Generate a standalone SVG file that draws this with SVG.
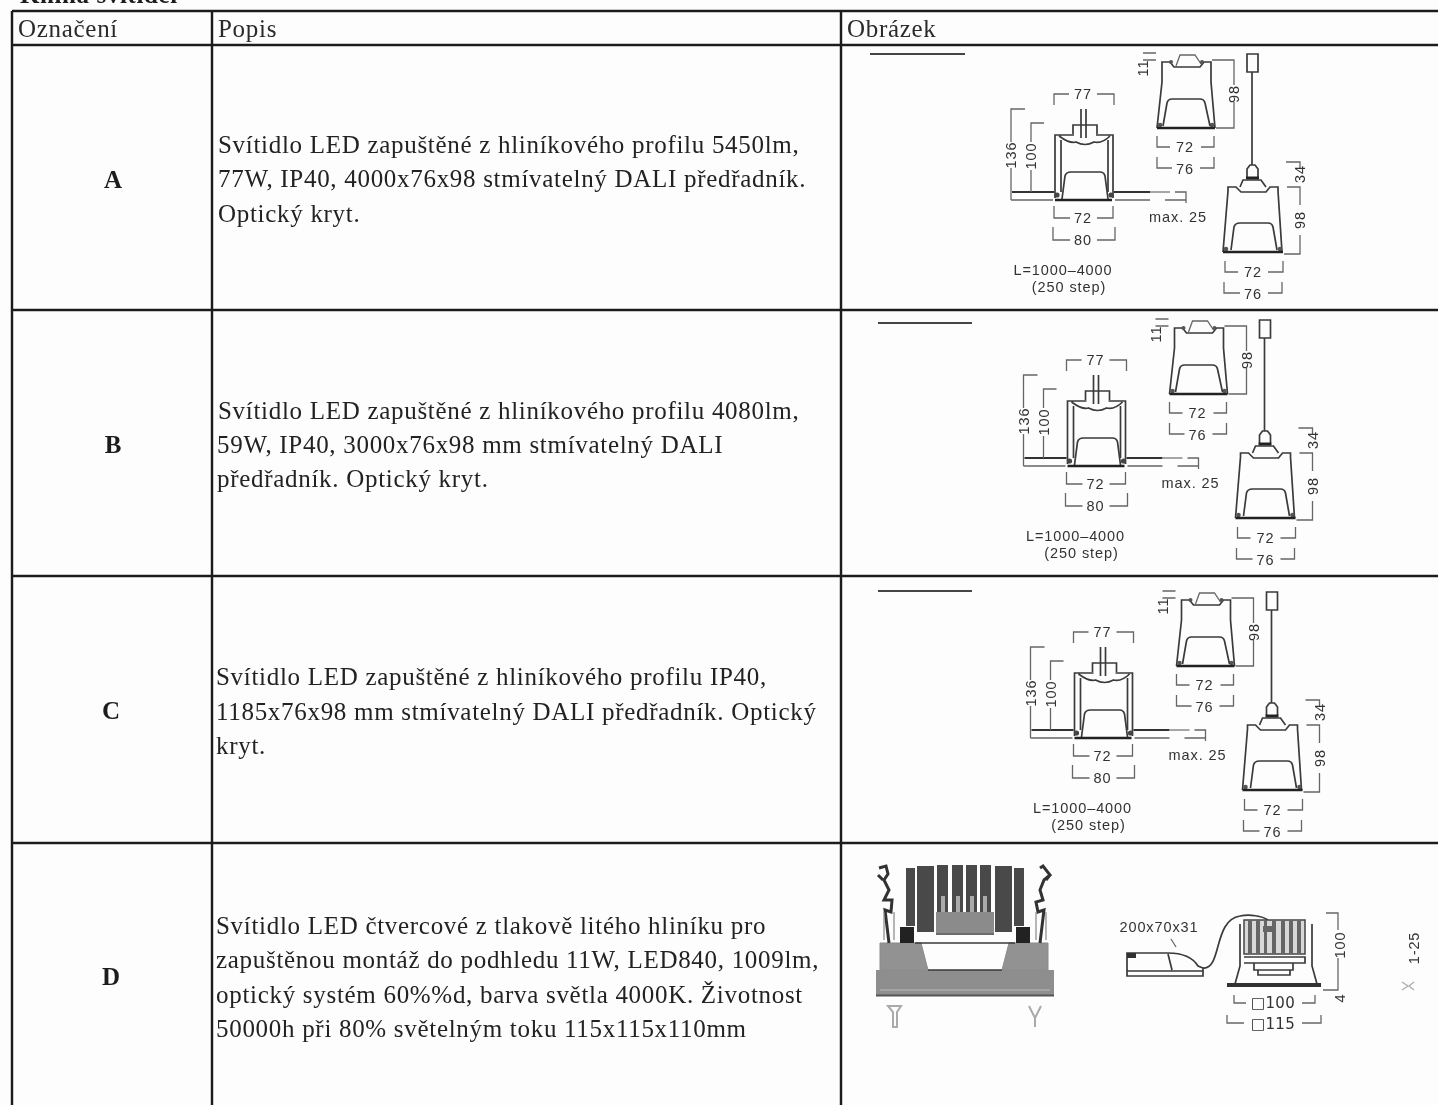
<svg xmlns="http://www.w3.org/2000/svg" width="1438" height="1105" viewBox="0 0 1438 1105">
<style>
.body{font-family:"Liberation Serif","Times New Roman",serif;font-size:25px;fill:#222;letter-spacing:.7px}
.head{font-family:"Liberation Serif","Times New Roman",serif;font-size:25px;fill:#2a2a2a;letter-spacing:.7px}
.lab{font-family:"Liberation Serif","Times New Roman",serif;font-size:25px;font-weight:bold;fill:#1c1c1c;text-anchor:middle}
.dim{font-family:"Liberation Sans",Arial,sans-serif;font-size:14.5px;fill:#333;text-anchor:middle;letter-spacing:.9px}
.ln{stroke:#1c1c1c;stroke-width:2.4;fill:none}
.d{stroke:#666;stroke-width:1.3;fill:none}
.o{stroke:#3a3a3a;stroke-width:1.7;fill:none}
.k{stroke:#222;stroke-width:2.4;fill:none}
.soft{filter:url(#b)}
</style>
<defs>
<filter id="b" x="-3%" y="-3%" width="106%" height="106%"><feGaussianBlur stdDeviation="0.5"/></filter>
<g id="lamp">
<!-- recessed luminaire -->
<path class="o" d="M1081 109V138M1086 109V138M1073 134V125H1097V134M1055 198V135H1074M1096 135H1113V198M1061 192V140M1108 192V140M1059 136Q1070 144 1076 142Q1085 147 1094 142Q1102 144 1110 136"/>
<path class="o" d="M1062 199L1065 176Q1066 172 1071 172H1100Q1104 172 1105 176L1108 199"/>
<path class="k" d="M1055 200H1112"/>
<path d="M1012 192H1054M1114 192H1150" stroke="#333" stroke-width="2.2" fill="none"/>
<path d="M1150 192H1170" stroke="#888" stroke-width="1.5"/>
<path class="d" d="M1011 200H1053M1115 200H1150"/>
<circle cx="1057" cy="195" r="2.6" fill="#444"/><circle cx="1111" cy="195" r="2.6" fill="#444"/>
<path class="d" d="M1175 192H1186V203M1165 200H1186"/>
<path class="d" d="M1054 105V94H1069M1097 94H1114V105"/>
<path class="d" d="M1054 206V218H1070M1097 218H1113V206"/>
<path class="d" d="M1053 227V240H1070M1097 240H1115V227"/>
<path class="d" d="M1025 109H1011V142M1011 168V200M1044 123H1031V142M1031 170V192"/>
<!-- upper front view -->
<path class="o" d="M1162 82V62H1170L1174 67H1200L1204 62H1211V82L1215 128M1162 82L1157 128"/>
<path class="d" d="M1176 66L1180 55H1195L1201 64"/>
<circle cx="1171" cy="62" r="2" fill="#555"/><circle cx="1202" cy="62" r="2" fill="#555"/>
<circle cx="1160" cy="125" r="2.3" fill="#555"/><circle cx="1212" cy="125" r="2.3" fill="#555"/>
<path class="k" d="M1157 128H1215"/>
<path class="o" d="M1163 126L1167 103Q1168 99 1172 99H1200Q1204 99 1205 103L1210 126"/>
<path class="d" d="M1212 60H1234V85M1234 102V128H1216M1143 53H1156M1143 60H1156"/>
<path class="d" d="M1157 136V147H1170M1201 147H1214V136M1157 157V168H1172M1200 168H1214V157"/>
<!-- pendant -->
<path class="o" d="M1247 54H1258V72H1247ZM1252 72V165"/>
<path class="o" d="M1247 177V169L1250 165H1255L1258 169V177"/>
<path d="M1246 178H1259" stroke="#222" stroke-width="3"/>
<path class="o" d="M1240 187L1243 180H1261L1266 187M1228 191V187H1236L1241 192H1266L1270 187H1278V191L1282 252M1228 191L1223 252"/>
<circle cx="1226" cy="249" r="2.3" fill="#555"/><circle cx="1280" cy="249" r="2.3" fill="#555"/>
<path class="k" d="M1223 252H1283"/>
<path class="o" d="M1231 250L1234 227Q1235 223 1240 223H1268Q1272 223 1273 227L1277 250"/>
<path class="d" d="M1286 162H1300V168M1287 187H1300V205M1300 235V254H1284"/>
<path class="d" d="M1225 261V272H1238M1268 272H1283V261M1224 282V293H1240M1268 293H1282V282"/>
</g>
<g id="heat">
<path d="M880 970V943H921L928 970ZM1048 970V943H1009L1002 970Z" fill="#929292" stroke="#8a8a8a"/>
<rect x="876" y="970" width="178" height="25" fill="#8e8e8e"/>
<path d="M876 995.5H1054" stroke="#555" stroke-width="2"/>
<path d="M880 990H1050" stroke="#bbb" stroke-width="1"/>
<path class="o" d="M915 943H1015M928 970H1002"/>
<g fill="#4a4a4a">
<rect x="906" y="868" width="9" height="58"/><rect x="917" y="866" width="17" height="66"/>
<rect x="937" y="865" width="11" height="47"/><rect x="952" y="865" width="11" height="47"/><rect x="966" y="865" width="11" height="47"/><rect x="980" y="865" width="11" height="47"/>
<rect x="995" y="866" width="17" height="66"/><rect x="1014" y="868" width="10" height="58"/>
</g>
<rect x="936" y="912" width="58" height="21" fill="#8b8b8b"/>
<g fill="#aaa"><rect x="941" y="896" width="4" height="16"/><rect x="956" y="896" width="4" height="16"/><rect x="970" y="896" width="4" height="16"/><rect x="983" y="896" width="4" height="16"/></g>
<path class="o" d="M936 934H994"/>
<rect x="900" y="927" width="14" height="16" fill="#222"/><rect x="1016" y="927" width="14" height="16" fill="#222"/>
<path d="M879 868L886 866L888 874L884 880L889 890L884 900L892 900L891 912L885 910L889 943M883 880L878 875" fill="none" stroke="#333" stroke-width="3"/>
<path d="M1040 868L1043 866L1050 875L1044 880L1040 890L1043 900L1036 902L1038 912L1044 910L1040 943M1046 880L1050 875" fill="none" stroke="#333" stroke-width="3"/>
<path d="M884 912V940M894 912V940M1036 912V940M1046 912V940" stroke="#888" stroke-width="1.2"/>
<path d="M888 1006H901L897 1012V1027H893V1012ZM1029 1006L1035 1018L1041 1006M1035 1018V1027" stroke="#aaa" stroke-width="2" fill="none"/>
<!-- driver and module -->
<path class="o" d="M1127 953H1168Q1190 953 1198 966L1203 968V976H1127Z"/>
<path d="M1127 953H1136V958H1127Z" fill="#333"/>
<path class="o" d="M1127 971H1203M1168 954L1172 970"/>
<path class="o" d="M1203 968C1222 970 1213 920 1240 916C1250 914 1262 916 1268 920" stroke-width="3"/>
<path d="M1171 939L1176 947" class="d"/>
<rect x="1244" y="920" width="61" height="34" fill="#d8d8d8" stroke="#444" stroke-width="1.5"/>
<g fill="#666"><rect x="1248" y="920" width="4" height="34"/><rect x="1256" y="920" width="4" height="34"/><rect x="1264" y="920" width="3" height="34"/><rect x="1272" y="920" width="4" height="34"/><rect x="1281" y="920" width="4" height="34"/><rect x="1289" y="920" width="4" height="34"/><rect x="1297" y="920" width="4" height="34"/></g>
<rect x="1263" y="926" width="12" height="6" fill="#666"/>
<path class="o" d="M1240 924V966L1235 984M1312 924V966L1317 984M1244 957H1305V963H1244M1254 963V970H1293V963M1258 970V975H1290V970"/>
<path d="M1227 985H1321" stroke="#333" stroke-width="4"/>
<path class="d" d="M1326 913H1338V930M1338 958V990H1323M1234 995V1003H1246M1302 1003H1315V995M1227 1015V1023H1244M1302 1023H1321V1015"/>
<path d="M1402 982L1408 986L1402 990M1414 982L1409 986L1414 990" stroke="#aaa" stroke-width="1.2" fill="none"/>
</g>
</defs>
<rect width="1438" height="1105" fill="#fdfdfd"/>
<g id="grid" class="soft">
<path class="ln" d="M12 11H1438M12 45H1438M12 310H1438M12 576H1438M12 843H1438"/>
<path class="ln" d="M12 11V1105M212 11V1105M841 11V1105"/>
</g>
<g id="title" class="soft"><text x="20" y="3" class="lab" style="text-anchor:start;letter-spacing:.6px">Kniha svítidel</text></g>
<g id="header" class="soft"><text x="18" y="37" class="head">Označení</text><text x="218" y="37" class="head">Popis</text><text x="847" y="37" class="head">Obrázek</text></g>
<g id="rowA" class="soft">
<text x="113" y="188" class="lab">A</text>
<text x="218" y="153" class="body">Svítidlo LED zapuštěné z hliníkového profilu 5450lm,</text>
<text x="218" y="187" class="body">77W, IP40, 4000x76x98 stmívatelný DALI předřadník.</text>
<text x="218" y="222" class="body">Optický kryt.</text>
<path d="M870 54H965" stroke="#444" stroke-width="2"/>
<use href="#lamp"/>
<text x="1083" y="99" class="dim">77</text><text x="1083" y="223" class="dim">72</text><text x="1083" y="245" class="dim">80</text>
<text class="dim" transform="translate(1016,155) rotate(-90)">136</text><text class="dim" transform="translate(1036,156) rotate(-90)">100</text>
<text x="1178" y="222" class="dim">max. 25</text><text x="1063" y="275" class="dim">L=1000–4000</text><text x="1069" y="292" class="dim">(250 step)</text>
<text class="dim" transform="translate(1148,68) rotate(-90)">11</text><text class="dim" transform="translate(1239,94) rotate(-90)">98</text>
<text x="1185" y="174" class="dim">76</text><text x="1185" y="152" class="dim">72</text>
<text class="dim" transform="translate(1305,174) rotate(-90)">34</text><text class="dim" transform="translate(1305,220) rotate(-90)">98</text>
<text x="1253" y="277" class="dim">72</text><text x="1253" y="299" class="dim">76</text>
</g>
<g id="rowB" class="soft">
<text x="113" y="453" class="lab">B</text>
<text x="218" y="419" class="body">Svítidlo LED zapuštěné z hliníkového profilu 4080lm,</text>
<text x="217" y="453" class="body">59W, IP40, 3000x76x98 mm stmívatelný DALI</text>
<text x="217" y="487" class="body">předřadník. Optický kryt.</text>
<path d="M878 323H972" stroke="#444" stroke-width="2"/>
<g transform="translate(12.5,266)">
<use href="#lamp"/>
<text x="1083" y="99" class="dim">77</text><text x="1083" y="223" class="dim">72</text><text x="1083" y="245" class="dim">80</text>
<text class="dim" transform="translate(1016,155) rotate(-90)">136</text><text class="dim" transform="translate(1036,156) rotate(-90)">100</text>
<text x="1178" y="222" class="dim">max. 25</text><text x="1063" y="275" class="dim">L=1000–4000</text><text x="1069" y="292" class="dim">(250 step)</text>
<text class="dim" transform="translate(1148,68) rotate(-90)">11</text><text class="dim" transform="translate(1239,94) rotate(-90)">98</text>
<text x="1185" y="152" class="dim">72</text><text x="1185" y="174" class="dim">76</text>
<text class="dim" transform="translate(1305,174) rotate(-90)">34</text><text class="dim" transform="translate(1305,220) rotate(-90)">98</text>
<text x="1253" y="277" class="dim">72</text><text x="1253" y="299" class="dim">76</text>
</g>
</g>
<g id="rowC" class="soft">
<text x="111" y="719" class="lab">C</text>
<text x="216" y="685" class="body">Svítidlo LED zapuštěné z hliníkového profilu IP40,</text>
<text x="216" y="720" class="body">1185x76x98 mm stmívatelný DALI předřadník. Optický</text>
<text x="216" y="754" class="body">kryt.</text>
<path d="M878 591H972" stroke="#444" stroke-width="2"/>
<g transform="translate(19.5,538)">
<use href="#lamp"/>
<text x="1083" y="99" class="dim">77</text><text x="1083" y="223" class="dim">72</text><text x="1083" y="245" class="dim">80</text>
<text class="dim" transform="translate(1016,155) rotate(-90)">136</text><text class="dim" transform="translate(1036,156) rotate(-90)">100</text>
<text x="1178" y="222" class="dim">max. 25</text><text x="1063" y="275" class="dim">L=1000–4000</text><text x="1069" y="292" class="dim">(250 step)</text>
<text class="dim" transform="translate(1148,68) rotate(-90)">11</text><text class="dim" transform="translate(1239,94) rotate(-90)">98</text>
<text x="1185" y="152" class="dim">72</text><text x="1185" y="174" class="dim">76</text>
<text class="dim" transform="translate(1305,174) rotate(-90)">34</text><text class="dim" transform="translate(1305,220) rotate(-90)">98</text>
<text x="1253" y="277" class="dim">72</text><text x="1253" y="299" class="dim">76</text>
</g>
</g>
<g id="rowD" class="soft">
<text x="111" y="985" class="lab">D</text>
<text x="216" y="934" class="body">Svítidlo LED čtvercové z tlakově litého hliníku pro</text>
<text x="216" y="968" class="body">zapuštěnou montáž do podhledu 11W, LED840, 1009lm,</text>
<text x="216" y="1003" class="body">optický systém 60%%d, barva světla 4000K. Životnost</text>
<text x="216" y="1037" class="body">50000h při 80% světelným toku 115x115x110mm</text>
<use href="#heat"/>
<text x="1159" y="932" class="dim">200x70x31</text>
<text class="dim" transform="translate(1345,945) rotate(-90)">100</text>
<text class="dim" transform="translate(1345,998) rotate(-90)">4</text>
<text x="1273" y="1008" class="dim" style="font-family:'DejaVu Sans',sans-serif;font-size:15px;letter-spacing:.3px">□100</text>
<text x="1273" y="1029" class="dim" style="font-family:'DejaVu Sans',sans-serif;font-size:15px;letter-spacing:.3px">□115</text>
<text class="dim" transform="translate(1419,948) rotate(-90)">1-25</text>
</g>
</svg>
